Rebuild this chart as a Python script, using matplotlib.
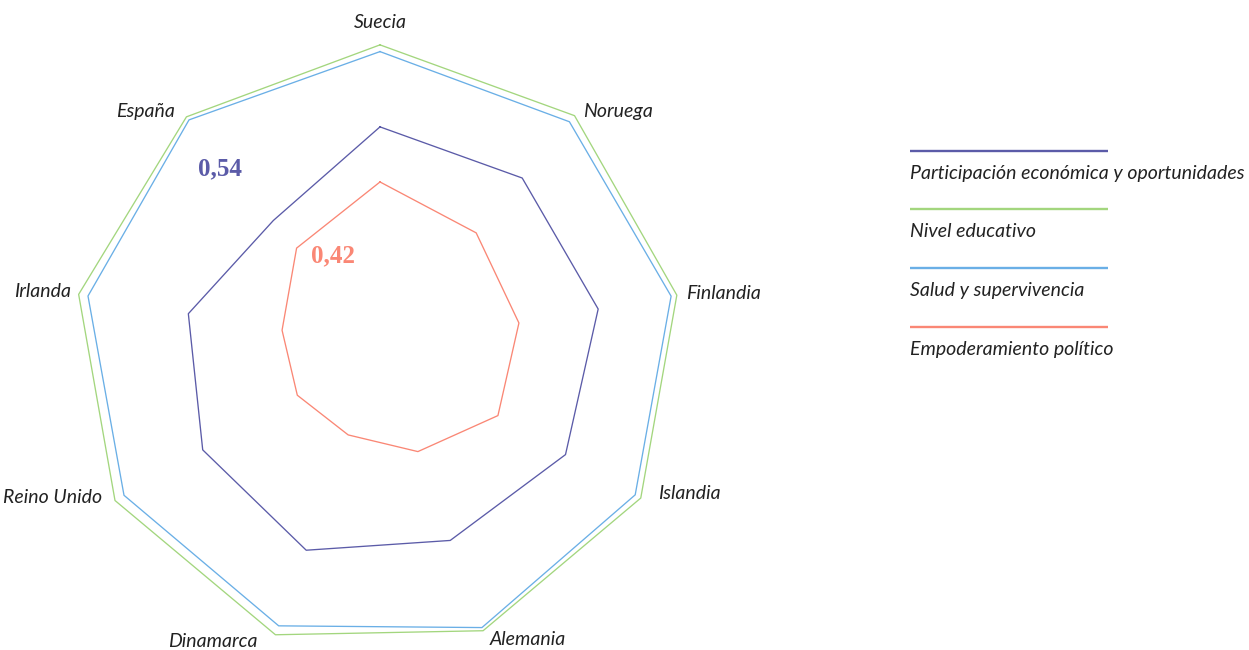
import matplotlib
matplotlib.use('Agg')
import matplotlib.pyplot as plt
import numpy as np

plt.rcParams['font.family'] = ['Lato', 'DejaVu Sans']

paises = ['Suecia', 'Noruega', 'Finlandia', 'Islandia', 'Alemania',
          'Dinamarca', 'Reino Unido', 'Irlanda', 'España']

participacion = [0.721, 0.723, 0.724, 0.700, 0.671, 0.705, 0.669, 0.636, 0.542]
educacion = [0.989, 0.989, 0.985, 0.984, 0.985, 0.999, 1.000, 1.000, 0.984]
salud = [0.967, 0.963, 0.966, 0.963, 0.974, 0.968, 0.966, 0.969, 0.971]
politica = [0.541, 0.489, 0.461, 0.445, 0.362, 0.304, 0.312, 0.325, 0.424]

series = [
    ('Participación económica y oportunidades', participacion, '#5b5ba8'),
    ('Nivel educativo', educacion, '#a3d67e'),
    ('Salud y supervivencia', salud, '#6aafe6'),
    ('Empoderamiento político', politica, '#fa8775'),
]

# where each country name sits relative to the axis end (pixels)
label_layout = [
    ('center', 0, 19),
    ('left', 6, 2),
    ('left', 5, 1),
    ('left', 13, 7),
    ('left', 5, -4),
    ('right', -18, -6),
    ('right', -13, 3),
    ('right', -8, 3),
    ('right', -8, 2),
]


def closed(values):
    return list(values) + [values[0]]


def main():
    fig = plt.figure(figsize=(12.49, 6.5), dpi=100)
    ax = fig.add_axes([74 / 1249, -3.5 / 650, 612 / 1249, 612 / 650],
                      projection='polar')
    ax.set_theta_zero_location('N')
    ax.set_theta_direction(-1)
    ax.set_ylim(0, 1)
    ax.axis('off')

    theta = np.linspace(0, 2 * np.pi, len(paises), endpoint=False)
    theta_c = closed(list(theta))

    for name, values, color in series:
        ax.plot(theta_c, closed(values), color=color, lw=0.95,
                clip_on=False)

    for t, pais, (ha, dx, dy) in zip(theta, paises, label_layout):
        ax.annotate(pais, (t, 1.0), xytext=(dx, dy),
                    textcoords='offset pixels', ha=ha, va='center',
                    fontsize=14, style='italic', color='#222222',
                    annotation_clip=False)

    # highlighted values for España
    esp = len(paises) - 1
    for values, color, off in [(participacion, '#5b5ba8', (-53, 52)),
                               (politica, '#fa8775', (36, -8))]:
        txt = f'{values[esp]:.2f}'.replace('.', ',')
        ax.annotate(txt, (theta[esp], values[esp]), xytext=off,
                    textcoords='offset pixels', ha='center', va='center',
                    fontsize=18, fontweight='bold', color=color,
                    family='Liberation Serif', annotation_clip=False)

    # legend: line above, text below
    lax = fig.add_axes([910 / 1249, 0, 339 / 1249, 1])
    lax.set_xlim(0, 339)
    lax.set_ylim(650, 0)
    lax.axis('off')
    for i, (name, values, color) in enumerate(series):
        y = 150.7 + i * 58.7
        lax.plot([0, 198], [y, y], color=color, lw=1.7,
                 solid_capstyle='butt')
        lax.text(0, y + 22.5, name, ha='left', va='center', fontsize=14,
                 style='italic', color='#222222')

    fig.savefig('out.png', dpi=100)


if __name__ == '__main__':
    main()
